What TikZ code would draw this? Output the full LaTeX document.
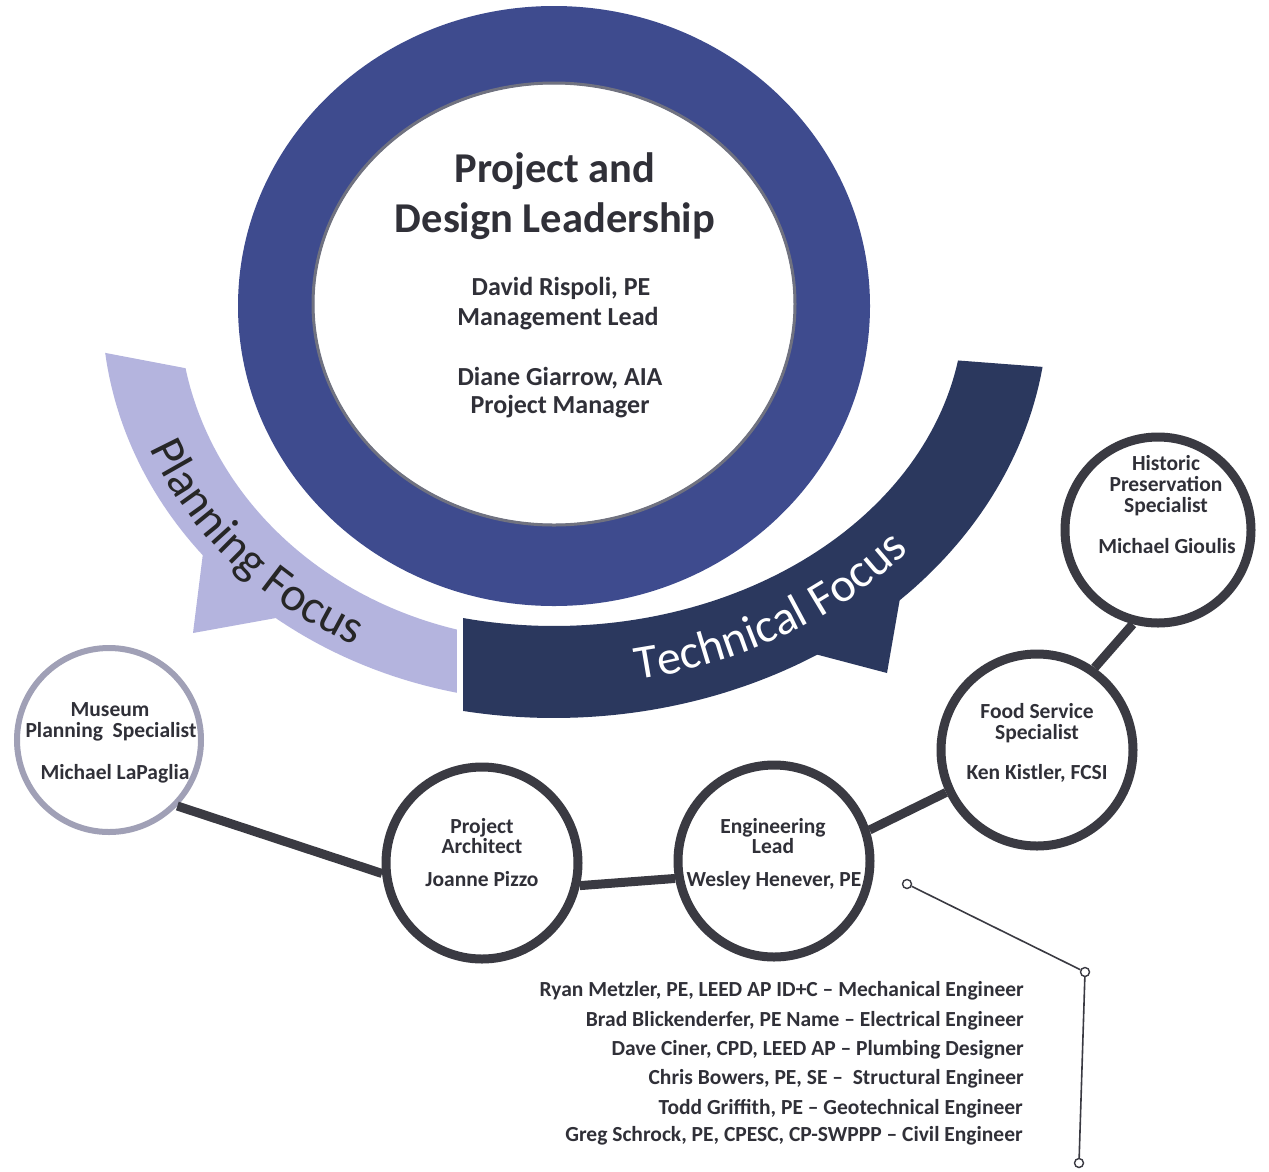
\documentclass[tikz,border=0pt]{standalone}
\usepackage{fontspec}
\setmainfont{Carlito}
\usetikzlibrary{decorations.text}
\definecolor{ringblue}{RGB}{62,75,142}
\definecolor{techblue}{RGB}{43,56,94}
\definecolor{planlav}{RGB}{180,180,222}
\definecolor{linegrey}{RGB}{58,58,66}
\definecolor{txtgrey}{RGB}{48,48,56}
\definecolor{musgrey}{RGB}{160,160,182}
\definecolor{bevelgrey}{RGB}{112,114,128}
\newcommand\bandfont{\fontsize{48}{48}\selectfont}
\begin{document}
\begin{tikzpicture}[x=1pt,y=-1pt,
  member/.style={circle, draw=linegrey, line width=9pt, fill=white, minimum size=192pt, inner sep=0pt},
  link/.style={draw=linegrey, line width=9pt},
  joint/.style={circle, draw=linegrey, line width=1.4pt, fill=white, minimum size=9pt, inner sep=0pt},
  leader/.style={draw=linegrey, line width=1.6pt},
  lbl/.style={text=txtgrey, font=\bfseries\fontsize{21.5}{22}\selectfont, anchor=base, inner sep=0pt},
  titletxt/.style={text=txtgrey, font=\bfseries\fontsize{42.5}{43}\selectfont, anchor=base, inner sep=0pt},
  subtxt/.style={text=txtgrey, font=\bfseries\fontsize{26}{26}\selectfont, anchor=base, inner sep=0pt},
  listtxt/.style={text=txtgrey, font=\bfseries\fontsize{21.5}{22}\selectfont, anchor=base east, inner sep=0pt}
]
\useasboundingbox (0,0) rectangle (1269,1171);
\fill[white] (0,0) rectangle (1269,1171);

% central ring
\fill[ringblue, even odd rule] (554,306) ellipse[x radius=316pt, y radius=300pt]
  (554,304) ellipse[x radius=240pt, y radius=220pt];
\draw[bevelgrey, line width=3pt] (554,304) ellipse[x radius=241pt, y radius=221pt];

% planning band
\fill[planlav] plot[domain=169.3:105, samples=60] ({554+375*cos(\x)},{306+335*sin(\x)})
  -- plot[domain=102.4:128, samples=30] ({554+452*cos(\x)},{306+396*sin(\x)})
  -- (193,633)
  -- plot[domain=141:173.2, samples=30] ({554+452*cos(\x)},{306+396*sin(\x)})
  -- cycle;
% technical band
\fill[techblue] plot[domain=102.8:9.8, samples=70] ({554+410*cos(\x)},{306+320*sin(\x)})
  -- plot[domain=8.5:45.6, samples=30] ({554+494*cos(\x)},{306+412*sin(\x)})
  -- (887,673)
  -- plot[domain=57.8:100.6, samples=40] ({554+494*cos(\x)},{306+412*sin(\x)})
  -- cycle;

% band texts
\path[decorate, decoration={text along path, text={|\bandfont|Planning Focus}, text align=center, text color=black!85}]
  plot[domain=0:1, samples=80, variable=\s] ({554+436*cos(166-56*\s)},{306+382*sin(166-56*\s)});
\path[decorate, decoration={text along path, text={|\bandfont|Technical Focus}, text align=center, text color=white}]
  plot[domain=0:1, samples=80, variable=\s] ({554+464*cos(85-51*\s)},{306+380*sin(85-51*\s)});

% title texts
\node[titletxt] (tt1) at (555,182) {Project and};
\node[titletxt] (tt2) at (555,232) {Design Leadership};
\node[subtxt] (s1) at (561,295) {David Rispoli, PE};
\node[subtxt] (s2) at (558,325) {Management Lead};
\node[subtxt] (s3) at (560,385) {Diane Giarrow, AIA};
\node[subtxt] (s4) at (560,413) {Project Manager};

% member circles
\node[circle, draw=musgrey, line width=6pt, fill=white, minimum size=184pt, inner sep=0pt] (mus) at (109,740) {};
\node[member] (arch) at (482,863) {};
\node[member] (eng) at (774,861) {};
\node[member] (food) at (1037,750) {};
\node[member, minimum size=186pt] (hist) at (1158,530) {};

% links
\draw[link] (mus.-44) -- (arch.186);
\draw[link] (arch.-13) -- (eng.190);
\draw[link] (eng.18) -- (food.205);
\draw[link] (food.55) -- (hist.255);

% circle labels
\node[lbl] (m1) at (110,716) {Museum};
\node[lbl] (m2) at (111,737) {Planning\ \ Specialist};
\node[lbl] (m3) at (115,779) {Michael LaPaglia};
\node[lbl] (a1) at (482,833) {Project};
\node[lbl] (a2) at (482,853) {Architect};
\node[lbl] (a3) at (482,886) {Joanne Pizzo};
\node[lbl] (e1) at (773,833) {Engineering};
\node[lbl] (e2) at (773,853) {Lead};
\node[lbl] (e3) at (774,886) {Wesley Henever, PE};
\node[lbl] (f1) at (1037,718) {Food Service};
\node[lbl] (f2) at (1037,739) {Specialist};
\node[lbl] (f3) at (1037,779) {Ken Kistler, FCSI};
\node[lbl] (h1) at (1166,470) {Historic};
\node[lbl] (h2) at (1166,491) {Preservation};
\node[lbl] (h3) at (1166,512) {Specialist};
\node[lbl] (h4) at (1167,553) {Michael Gioulis};

% leader line
\node[joint] (p1) at (907,884) {};
\node[joint] (p2) at (1085,972) {};
\node[joint] (p3) at (1079,1163) {};
\draw[leader] (p1) -- (p2) -- (p3);

% team list
\node[listtxt] (l1) at (1024,996) {Ryan Metzler, PE, LEED AP ID+C -- Mechanical Engineer};
\node[listtxt] (l2) at (1024,1026) {Brad Blickenderfer, PE Name -- Electrical Engineer};
\node[listtxt] (l3) at (1024,1055) {Dave Ciner, CPD, LEED AP -- Plumbing Designer};
\node[listtxt] (l4) at (1024,1084) {Chris Bowers, PE, SE --\ \ Structural Engineer};
\node[listtxt] (l5) at (1023,1114) {Todd Griffith, PE -- Geotechnical Engineer};
\node[listtxt] (l6) at (1023,1141) {Greg Schrock, PE, CPESC, CP-SWPPP -- Civil Engineer};
\end{tikzpicture}
\end{document}
